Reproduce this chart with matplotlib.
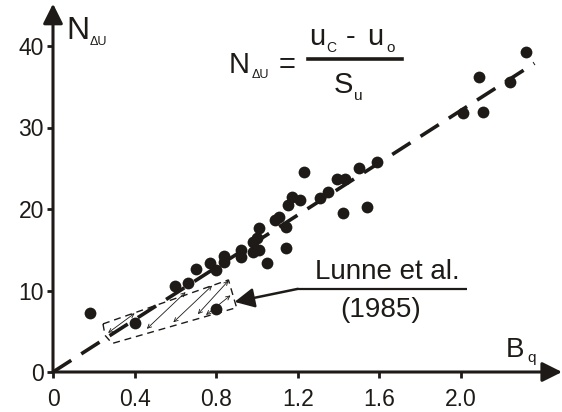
import numpy as np
import matplotlib
matplotlib.use("Agg")
import matplotlib.pyplot as plt
from matplotlib.patches import Polygon

plt.rcParams['font.family'] = ['Liberation Sans', 'DejaVu Sans']

INK = '#1e1a17'

# measured pore pressure ratio vs B_q
bq = [0.18, 0.40, 0.60, 0.66, 0.70, 0.77, 0.80, 0.84, 0.84, 0.80,
      0.92, 0.92, 0.98, 1.01, 1.05, 0.98, 1.00, 1.01, 1.09, 1.11,
      1.14, 1.14, 1.15, 1.17, 1.21, 1.23, 1.31, 1.35, 1.39, 1.43,
      1.50, 1.59, 1.42, 1.54, 2.01, 2.11, 2.09, 2.24, 2.32]
n_du = [7.3, 6.0, 10.6, 10.9, 12.6, 13.4, 12.5, 14.2, 13.5, 7.7,
        15.0, 14.1, 14.7, 15.0, 13.4, 16.0, 16.5, 17.7, 18.6, 19.0,
        17.8, 15.2, 20.5, 21.5, 21.1, 24.5, 21.3, 22.1, 23.7, 23.7,
        25.0, 25.8, 19.5, 20.2, 31.8, 31.9, 36.2, 35.6, 39.3]

# best fit through the origin
fit_slope = 16.05
fit_x = [0.0, 2.36]

# Lunne et al. (1985) range
lunne_zone = [(0.245, 5.9), (0.86, 11.3), (0.90, 7.9), (0.29, 3.5), (0.255, 4.5)]
lunne_hatch = [((0.27, 4.8), (0.40, 7.2)),
               ((0.46, 5.3), (0.65, 9.8)),
               ((0.59, 6.1), (0.78, 10.6)),
               ((0.71, 7.1), (0.86, 11.2)),
               ((0.75, 7.0), (0.87, 9.4))]
lunne_pointer = [(2.03, 10.2), (1.20, 10.2), (0.89, 8.6)]

xticks = [0, 0.4, 0.8, 1.2, 1.6, 2.0]
xticklabels = ['0', '0.4', '0.8', '1.2', '1.6', '2.0']
yticks = [0, 10, 20, 30, 40]

W, H = 562, 412
fig = plt.figure(figsize=(W / 100, H / 100), dpi=100)
ax = fig.add_axes([53 / W, 40 / H, 509 / W, 372 / H])
ax.set_xlim(0, 509 / 204)
ax.set_ylim(0, 372 / 8.15)
for s in ax.spines.values():
    s.set_visible(False)

# axes with arrow heads
for tip in [(1.0, 0.0), (0.0, 0.99)]:
    ax.annotate('', xy=tip, xytext=(0, 0), xycoords='axes fraction',
                arrowprops=dict(arrowstyle='-|>', color=INK, lw=2.2,
                                mutation_scale=30, shrinkA=0, shrinkB=0),
                annotation_clip=False)

ax.set_xticks(xticks)
ax.set_xticklabels(xticklabels)
ax.set_yticks(yticks)
ax.tick_params(direction='out', length=4.5, width=2, color=INK,
               labelcolor=INK, labelsize=16.5)
ax.tick_params(axis='y', pad=2)
ax.tick_params(axis='x', pad=7)

# fitted trend
fx = np.array(fit_x)
ax.plot(fx, fit_slope * fx, color=INK, lw=2.6, dashes=(6, 3.3), zorder=2)

ax.plot(bq, n_du, 'o', ms=8.5, color=INK, mec='none', zorder=3, clip_on=False)

# Lunne zone outline and hatching
ax.add_patch(Polygon(lunne_zone, closed=True, fill=False, ec=INK, lw=1.0,
                     ls=(0, (5, 3.5)), zorder=2))
for a, b in lunne_hatch:
    ax.annotate('', xy=b, xytext=a,
                arrowprops=dict(arrowstyle='<->', color=INK, lw=0.6,
                                mutation_scale=7, shrinkA=0, shrinkB=0))

px, py = zip(*lunne_pointer)
ax.plot(px[:2], py[:2], color=INK, lw=1.6, solid_capstyle='butt')
ax.annotate('', xy=lunne_pointer[2], xytext=lunne_pointer[1],
            arrowprops=dict(arrowstyle='-|>', color=INK, lw=1.8,
                            mutation_scale=30, shrinkA=0, shrinkB=0))


def at(x, y):
    return x / W, 1 - y / H


def txt(x, y, s, size, ha='left'):
    fig.text(*at(x, y), s, fontsize=size, color=INK, ha=ha, va='baseline')


# axis titles
txt(66, 39, 'N', 23)
txt(90, 45, 'ΔU', 9)
txt(506, 357, 'B', 20)
txt(527, 362, 'q', 11)

# definition of N_du
txt(229, 73, 'N', 21)
txt(252, 78, 'ΔU', 9)
txt(279, 73, '=', 21)
txt(309, 45, 'u', 21)
txt(326, 52, 'C', 10)
txt(346, 45, '-', 21)
txt(367, 45, 'u', 21)
txt(386, 52, 'o', 11)
fig.add_artist(plt.Line2D([308 / W, 402 / W], [1 - 59 / H, 1 - 59 / H],
                          color=INK, lw=2.6))
txt(334, 93, 'S', 21)
txt(354, 100, 'u', 11)

txt(387, 279, 'Lunne et al.', 20, ha='center')
txt(381, 317, '(1985)', 20, ha='center')

fig.savefig('out.png', dpi=100)
